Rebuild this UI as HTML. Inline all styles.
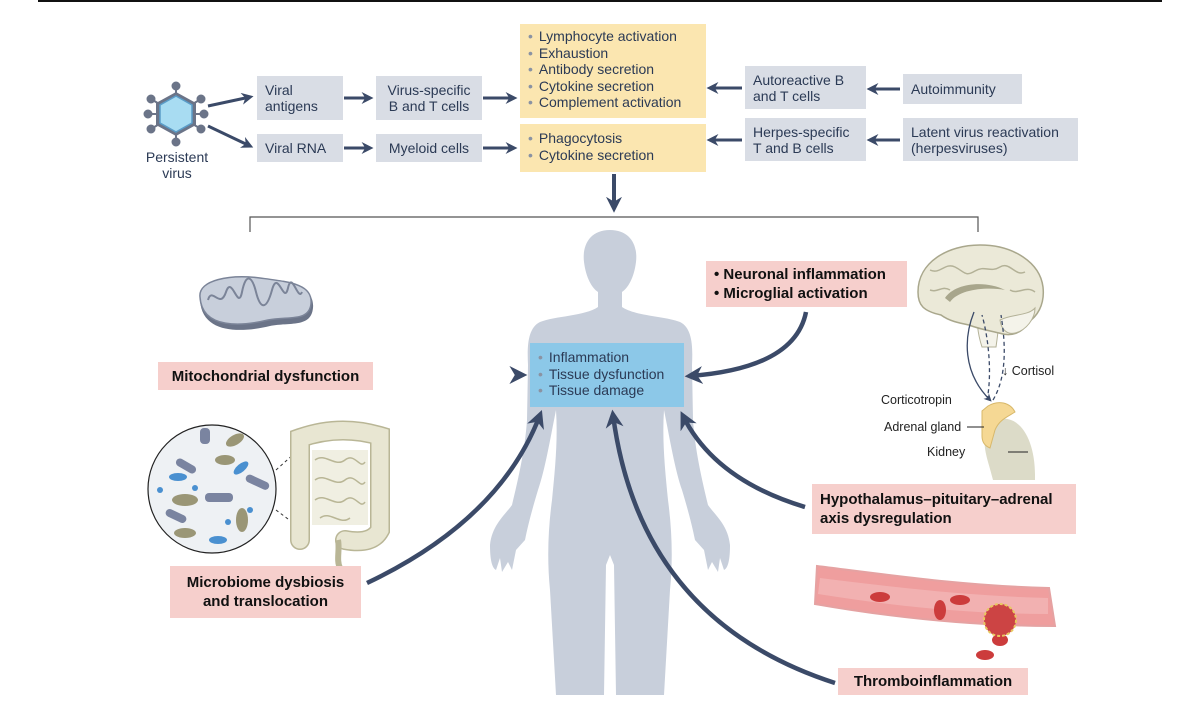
<!DOCTYPE html>
<html><head><meta charset="utf-8"><style>
body{margin:0;background:#fff;}
#c{position:relative;width:1200px;height:705px;overflow:hidden;font-family:"Liberation Sans","DejaVu Sans",sans-serif;color:#2b3a55;}
.b{position:absolute;background:#d9dde5;font-size:14px;line-height:16px;padding:0 8px;display:flex;align-items:center;box-sizing:border-box;white-space:nowrap;}
.y{position:absolute;background:#fbe6b0;font-size:14px;line-height:16.5px;padding:4px 8px;box-sizing:border-box;white-space:nowrap;}
.y span,.bl span{color:#8a93a3;margin-right:6px;}
.p{position:absolute;background:#f6cfcc;font-weight:bold;color:#111;font-size:15px;line-height:19px;display:flex;align-items:center;justify-content:center;text-align:center;box-sizing:border-box;white-space:nowrap;}
.bl{position:absolute;background:#8cc8e8;font-size:14px;line-height:16.5px;padding:6px 8px;box-sizing:border-box;white-space:nowrap;}
.t{position:absolute;font-size:12.5px;color:#222;white-space:nowrap;}
svg{position:absolute;left:0;top:0;}
</style></head><body><div id="c">
<svg width="1200" height="705">
<defs>
<marker id="ah" viewBox="0 0 10 10" refX="7" refY="5" markerWidth="4" markerHeight="4" orient="auto"><path d="M0,0L10,5L0,10L3,5z" fill="#3b4a68"/></marker>
<marker id="as" viewBox="0 0 10 10" refX="7" refY="5" markerWidth="6" markerHeight="6" orient="auto"><path d="M0,0L10,5L0,10L3,5z" fill="#3b4a68"/></marker>
<linearGradient id="gl" x1="0" x2="1"><stop offset="0" stop-color="#c9ced8"/><stop offset="1" stop-color="#3b4a68"/></linearGradient>
<path id="half" d="M610,230C590,230 582,245 584,262C586,278 592,288 598,292L598,307C585,316 555,316 540,322C528,328 527,345 528,365L527,420C525,450 518,480 512,505C505,515 492,525 490,545C490,560 492,568 496,570L500,558L502,572L508,562L512,570L516,550L525,540C528,525 532,510 538,490C545,470 550,440 556,410C558,440 555,470 552,500C548,530 547,560 550,590L556,695L604,695L606,565L610,555Z"/>
</defs>
<line x1="38" y1="1" x2="1162" y2="1" stroke="#111" stroke-width="2"/>
<!-- virus -->
<g stroke="#6b7488" stroke-width="2" fill="#6b7488">
<line x1="176" y1="114" x2="176" y2="86"/><line x1="176" y1="114" x2="176" y2="142"/>
<line x1="176" y1="114" x2="151" y2="99"/><line x1="176" y1="114" x2="201" y2="99"/>
<line x1="176" y1="114" x2="151" y2="129"/><line x1="176" y1="114" x2="201" y2="129"/>
<line x1="176" y1="114" x2="148" y2="114"/><line x1="176" y1="114" x2="204" y2="114"/>
<circle cx="176" cy="86" r="3.5"/><circle cx="176" cy="142" r="3.5"/><circle cx="151" cy="99" r="3.5"/><circle cx="201" cy="99" r="3.5"/><circle cx="151" cy="129" r="3.5"/><circle cx="201" cy="129" r="3.5"/><circle cx="148" cy="114" r="3.5"/><circle cx="204" cy="114" r="3.5"/>
</g>
<polygon points="176,92 196,103 196,125 176,136 156,125 156,103" fill="#6b7488"/>
<polygon points="176,96 192,105 192,123 176,132 160,123 160,105" fill="#a8dcf2" stroke="#5a9cc8" stroke-width="1.5"/>
<g stroke="#3b4a68" stroke-width="3" marker-end="url(#ah)">
<line x1="208" y1="106" x2="250" y2="97"/><line x1="208" y1="126" x2="250" y2="146"/>
<line x1="344" y1="98" x2="370" y2="98"/><line x1="344" y1="148" x2="370" y2="148"/>
<line x1="483" y1="98" x2="514" y2="98"/><line x1="483" y1="148" x2="514" y2="148"/>
<line x1="742" y1="88" x2="710" y2="88"/><line x1="742" y1="140" x2="710" y2="140"/>
<line x1="900" y1="89" x2="870" y2="89"/><line x1="900" y1="140" x2="870" y2="140"/>
<line x1="614" y1="174" x2="614" y2="208" stroke-width="4"/>
</g>
<path d="M250,232V217H978V232" fill="none" stroke="#555" stroke-width="1.2"/>
<!-- body -->
<use href="#half" fill="#c8cfdb"/>
<use href="#half" fill="#c8cfdb" transform="translate(1220,0) scale(-1,1)"/>
<!-- mitochondrion -->
<path d="M200,300C198,280 230,276 260,280C290,284 315,286 313,308C311,328 290,322 270,326C245,332 202,336 200,300z" fill="#6b7488"/>
<path d="M200,297C198,280 230,274 260,278C290,282 313,284 311,304C309,322 288,316 268,320C243,326 202,330 200,297z" fill="#c8cfdb" stroke="#7b8498" stroke-width="1.5"/>
<path d="M208,300c4-14,12,10,18-8s12,20,16,0s10,-16,14,0s10,20,16,-2s12,16,16,-2s10,14,14,4" fill="none" stroke="#7b8498" stroke-width="2"/>
<!-- microbiome -->
<circle cx="212" cy="489" r="64" fill="#eef1f4" stroke="#222" stroke-width="1.2"/>
<g fill="#7a84a0"><rect x="175" y="462" width="22" height="8" rx="4" transform="rotate(30 186 466)"/><rect x="205" y="493" width="28" height="9" rx="4"/><rect x="245" y="478" width="25" height="8" rx="4" transform="rotate(25 257 482)"/><rect x="165" y="512" width="22" height="8" rx="4" transform="rotate(25 176 516)"/><rect x="200" y="428" width="10" height="16" rx="4"/></g>
<g fill="#9a9676"><ellipse cx="185" cy="500" rx="13" ry="6"/><ellipse cx="225" cy="460" rx="10" ry="5"/><ellipse cx="185" cy="533" rx="11" ry="5"/><ellipse cx="242" cy="520" rx="6" ry="12"/><ellipse cx="235" cy="440" rx="10" ry="5" transform="rotate(-30 235 440)"/></g>
<g fill="#4a90d0"><ellipse cx="178" cy="477" rx="9" ry="4"/><ellipse cx="241" cy="468" rx="9" ry="4" transform="rotate(-40 241 468)"/><ellipse cx="218" cy="540" rx="9" ry="4"/><circle cx="195" cy="488" r="3"/><circle cx="228" cy="522" r="3"/><circle cx="250" cy="510" r="3"/><circle cx="160" cy="490" r="3"/></g>
<path d="M276,470L296,452M276,510L296,525" stroke="#333" stroke-dasharray="3,3"/>
<path d="M300,540V438Q340,424 380,436V530Q372,545 345,540" fill="none" stroke="#b9b696" stroke-width="20" stroke-linecap="round"/>
<path d="M300,540V438Q340,424 380,436V530Q372,545 345,540" fill="none" stroke="#e8e6d2" stroke-width="17" stroke-linecap="round"/>
<path d="M312,450h56v75h-56z" fill="#f0efe2"/>
<path d="M315,460c10,-8,20,8,30,0s15,10,20,2M315,480c10,-8,20,8,30,0s15,10,20,2M315,500c10,-8,20,8,30,0s15,10,20,2M320,518c10,-8,20,8,30,0" fill="none" stroke="#b9b696" stroke-width="1.5"/>
<path d="M338,540c2,10,-2,20,2,28" stroke="#b9b696" stroke-width="6" fill="none"/>
<!-- brain -->
<path d="M978,305c-2,15,0,30,4,42h14c2-14,4-28,2-42z" fill="#f4f3ea" stroke="#b3b197"/>
<path d="M918,292c0-30,30-47,62-47c34,0,60,18,63,42c2,18-6,30-16,36c-4,10-16,14-28,10c-8,-2-20,-4-30,-8c-10-2-20-4-28-10c-18-4-23-10-23-23z" fill="#ebe9d8" stroke="#a9a78c" stroke-width="1.5"/>
<path d="M1000,320c12,-6,28,-4,35,-12c0,10,-8,22-20,25c-8,2-14-4-15-13z" fill="#f4f3ea" stroke="#b3b197"/>
<path d="M945,298c10-15,40-18,60-8c-15-3-45-2-55,12z" fill="#a8a68c"/>
<path d="M930,270c10,5,15-8,25-3s10,10,20,4s15,2,25-4s15,10,25,5M930,290c8,3,12-5,20,0M1010,290c8,5,16-5,25,2" fill="none" stroke="#b3b197" stroke-width="1.5"/>
<path d="M974,312c-10,25-12,60,16,88" fill="none" stroke="#3b4a68" stroke-width="1.3" marker-end="url(#as)"/>
<path d="M987,400c5-25,2-60-5-85M993,400c15-25,12-60,8-85" fill="none" stroke="#3b4a68" stroke-width="1.3" stroke-dasharray="4,3"/>
<!-- adrenal/kidney -->
<path d="M995,420c25-8,40,20,40,55v5h-42c-5-20-10-30-8-45z" fill="#dcdbc8"/>
<path d="M988,406c10-6,22-4,27,6c-8,5-16,8-20,18l-5,18c-5-2-8-6-8-12l0-25z" fill="#f5d894" stroke="#d8b86a" stroke-width="1"/>
<line x1="967" y1="427" x2="984" y2="427" stroke="#222"/><line x1="1008" y1="452" x2="1028" y2="452" stroke="#222"/>
<!-- vessel -->
<path d="M817,566c80,10,150,20,232,22l6,38c-80,0-160,-8-240,-22z" fill="#ef9e9e" stroke="#e5a2a2" stroke-width="2"/>
<path d="M820,578c80,10,150,18,228,20v16c-78,0-155,-8-230,-20z" fill="#f2b1b1"/>
<g fill="#cc3c3c"><ellipse cx="880" cy="597" rx="10" ry="5"/><ellipse cx="940" cy="610" rx="6" ry="10"/><ellipse cx="960" cy="600" rx="10" ry="5"/><ellipse cx="985" cy="655" rx="9" ry="5"/><ellipse cx="1000" cy="640" rx="8" ry="6"/></g>
<circle cx="1000" cy="620" r="16" fill="#c44" stroke="#e8c860" stroke-width="2" stroke-dasharray="3,2"/>
<!-- body arrows -->
<g fill="none" stroke-width="4.5" marker-end="url(#ah)">
<line x1="382" y1="375" x2="522" y2="375" stroke="url(#gl)"/>
<path d="M806,312Q795,368 690,376" stroke="#3b4a68"/>
<path d="M367,583Q500,520 540,415" stroke="#3b4a68"/>
<path d="M805,507Q715,480 683,416" stroke="#3b4a68"/>
<path d="M835,683Q640,620 613,415" stroke="#3b4a68"/>
</g>
</svg>
<div class="t" style="left:140px;top:149px;text-align:center;width:74px;font-size:14px;line-height:16px;color:#2b3a55">Persistent<br>virus</div>
<div class="b" style="left:257px;top:76px;width:86px;height:44px">Viral<br>antigens</div>
<div class="b" style="left:257px;top:134px;width:86px;height:28px">Viral RNA</div>
<div class="b" style="left:376px;top:76px;width:106px;height:44px;justify-content:center;text-align:center">Virus-specific<br>B and T cells</div>
<div class="b" style="left:376px;top:134px;width:106px;height:28px;justify-content:center">Myeloid cells</div>
<div class="y" style="left:520px;top:24px;width:186px;height:94px"><span>•</span>Lymphocyte activation<br><span>•</span>Exhaustion<br><span>•</span>Antibody secretion<br><span>•</span>Cytokine secretion<br><span>•</span>Complement activation</div>
<div class="y" style="left:520px;top:124px;width:186px;height:48px;padding-top:6px"><span>•</span>Phagocytosis<br><span>•</span>Cytokine secretion</div>
<div class="b" style="left:745px;top:66px;width:121px;height:43px">Autoreactive B<br>and T cells</div>
<div class="b" style="left:745px;top:118px;width:121px;height:43px">Herpes-specific<br>T and B cells</div>
<div class="b" style="left:903px;top:74px;width:119px;height:30px">Autoimmunity</div>
<div class="b" style="left:903px;top:118px;width:175px;height:43px">Latent virus reactivation<br>(herpesviruses)</div>
<div class="bl" style="left:530px;top:343px;width:154px;height:64px"><span>•</span>Inflammation<br><span>•</span>Tissue dysfunction<br><span>•</span>Tissue damage</div>
<div class="p" style="left:158px;top:362px;width:215px;height:28px">Mitochondrial dysfunction</div>
<div class="p" style="left:706px;top:261px;width:201px;height:46px;justify-content:flex-start;padding-left:8px;text-align:left">• Neuronal inflammation<br>• Microglial activation</div>
<div class="p" style="left:812px;top:484px;width:264px;height:50px;justify-content:flex-start;padding-left:8px;text-align:left">Hypothalamus–pituitary–adrenal<br>axis dysregulation</div>
<div class="p" style="left:170px;top:566px;width:191px;height:52px">Microbiome dysbiosis<br>and translocation</div>
<div class="p" style="left:838px;top:668px;width:190px;height:27px">Thromboinflammation</div>
<div class="t" style="left:1002px;top:364px">↓ Cortisol</div>
<div class="t" style="left:881px;top:393px">Corticotropin</div>
<div class="t" style="left:884px;top:420px">Adrenal gland</div>
<div class="t" style="left:927px;top:445px">Kidney</div>
</div></body></html>
